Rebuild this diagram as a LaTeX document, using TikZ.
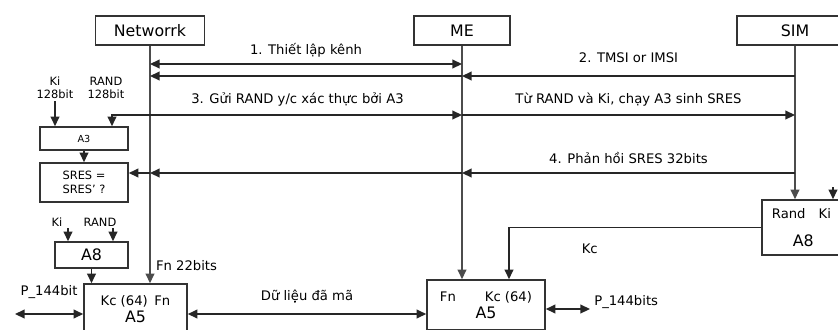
\documentclass[tikz,border=0pt]{standalone}
\usepackage{fontspec}
\setmainfont{DejaVu Sans}
\usetikzlibrary{arrows.meta, positioning}

\begin{document}
\begin{tikzpicture}[
    % Picture Styling
    x=0.02cm, y=-0.02cm,
    >={Triangle[length=5.5pt, width=5pt]},
    actor/.style={draw=black!80, line width=0.9pt, minimum height=0.58cm, inner sep=1pt, font=\fontsize{9}{10}\selectfont},
    algo/.style={draw=black!80, line width=0.9pt, align=center, inner sep=1pt, font=\fontsize{9}{10}\selectfont},
    lbl/.style={font=\fontsize{7.5}{9}\selectfont, inner sep=1pt, text height=1.5ex, text depth=0.4ex},
    small/.style={font=\fontsize{6.5}{7.5}\selectfont, align=center, inner sep=1pt},
    lifeline/.style={->, line width=0.9pt, draw=black!70},
    flow/.style={->, line width=0.9pt, draw=black!85},
    duplex/.style={<->, line width=0.9pt, draw=black!85}
  ]
  \useasboundingbox (0,0) rectangle (838,329);
  % Thuc the
  \node[actor, minimum width=2.18cm] (net) at (150,30.5) {Networrk};
  \node[actor, minimum width=1.92cm] (me) at (462,30.5) {ME};
  \node[actor, minimum width=2.32cm] (sim) at (795,30.5) {SIM};
  % Khoi thuat toan
  \node[algo, minimum width=1.76cm, minimum height=0.46cm, font=\fontsize{5.5}{6}\selectfont] (a3) at (84,138.5) {A3};
  \node[algo, minimum width=1.76cm, minimum height=0.78cm, font=\fontsize{6.5}{8}\selectfont] (sres) at (84,182.5) {SRES =\\SRES' ?};
  \node[algo, minimum width=1.46cm, minimum height=0.52cm] (a8l) at (91.5,255) {A8};
  \node[algo, minimum width=2.06cm, minimum height=1cm] (a5l) at (135.5,309) {{\fontsize{7.5}{9}\selectfont Kc (64)\enspace Fn}\\A5};
  \node[algo, minimum width=2.36cm, minimum height=1cm] (a5r) at (486,305) {{\fontsize{7.5}{9}\selectfont Fn\hspace{2.2em}Kc (64)}\\A5};
  \node[algo, minimum width=2cm, minimum height=1.1cm] (a8r) at (812,227.5) {{\fontsize{7.5}{9}\selectfont Rand\hspace{1em}Ki\kern12pt}\\[6pt]A8\kern10pt};
  % Dau vao
  \node[small] (ki1) at (55,88) {Ki\\128bit};
  \node[small] (rand1) at (106,88) {RAND\\128bit};
  \node[small] (ki2) at (57,222) {Ki};
  \node[small] (rand2) at (100,222) {RAND};
  % Diem tren duong song
  \coordinate (n1) at (net.south |- 0,64);
  \coordinate (m1) at (me.south |- 0,64);
  \coordinate (n2) at (net.south |- 0,76);
  \coordinate (m2) at (me.south |- 0,76);
  \coordinate (s2) at (sim.south |- 0,76);
  \coordinate (m3) at (me.south |- 0,115);
  \coordinate (s3) at (sim.south |- 0,115);
  \coordinate (n4) at (net.south |- 0,173);
  \coordinate (m4) at (me.south |- 0,173);
  \coordinate (s4) at (sim.south |- 0,173);
  \coordinate (kiin) at (833,187);
  \coordinate (pleft) at (15,314);
  \coordinate (pright) at (590,309);
  % Duong song
  \draw[lifeline] (net.south) -- node[lbl, pos=0.925, right=2pt] (fn) {Fn 22bits} (net.south |- a5l.north);
  \draw[lifeline] (me.south) -- (me.south |- a5r.north);
  \draw[lifeline] (sim.south) -- (sim.south |- a8r.north);
  % Thong diep
  \draw[duplex] (n1) -- node[lbl, above=2pt] {1. Thiết lập kênh} (m1);
  \draw[flow] (s2) -- node[lbl, above=4pt] {2. TMSI or IMSI} (m2);
  \draw[flow] (m2) -- (n2);
  \draw[duplex] ([xshift=0.56cm]a3.north) |- node[lbl, pos=0.765, above=3pt] {3. Gửi RAND y/c xác thực bởi A3} (m3);
  \draw[flow] (m3) -- node[lbl, above=3pt] {Từ RAND và Ki, chạy A3 sinh SRES} (s3);
  \draw[flow] (s4) -- node[lbl, above=2pt] {4. Phản hồi SRES 32bits} (m4);
  \draw[flow] (m4) -- (n4);
  \draw[flow] (n4) -- (sres.east |- n4);
  % Luong thuat toan
  \draw[flow] (ki1) -- (ki1 |- a3.north);
  \draw[flow] (a3) -- (sres);
  \draw[flow] ([xshift=0.22cm]ki2.south) -- ([xshift=0.22cm]ki2.south |- a8l.north);
  \draw[flow] ([xshift=0.26cm]rand2.south) -- ([xshift=0.26cm]rand2.south |- a8l.north);
  \draw[flow] (a8l.south) -- (a8l.south |- a5l.north);
  \draw[flow] (kiin) -- (kiin |- a8r.north);
  \draw[flow] (a8r.west) -| node[lbl, pos=0.34, below=5pt] {Kc} ([xshift=0.46cm]a5r.north);
  % Du lieu
  \draw[duplex] (pleft) -- node[lbl, above=7pt] {P\_144bit} (a5l.west |- pleft);
  \draw[duplex] (a5l.east |- pleft) -- node[lbl, above=4pt] {Dữ liệu đã mã} (a5r.west |- pleft);
  \draw[duplex] (a5r.east |- pright) -- (pright) node[lbl, right=1pt, yshift=5pt] {P\_144bits};
\end{tikzpicture}
\end{document}
